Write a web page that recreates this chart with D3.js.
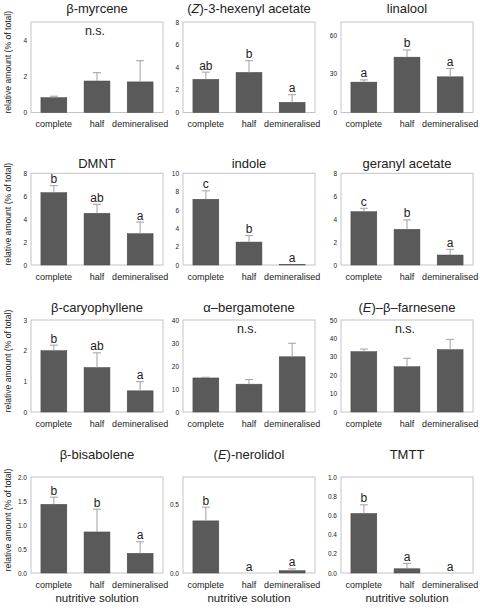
<!DOCTYPE html>
<html><head><meta charset="utf-8">
<script src="https://cdn.jsdelivr.net/npm/d3@7"></script>
<style>body{margin:0;background:#fff}svg{display:block}text{font-family:"Liberation Sans",Arial,sans-serif}</style>
</head><body>
<svg id="chart" width="480" height="612"></svg>
<script>
const categories = ["complete", "half", "demineralised"];
const compounds = ["β-myrcene", "(Z)-3-hexenyl acetate", "linalool",
  "DMNT", "indole", "geranyl acetate",
  "β-caryophyllene", "α–bergamotene", "(E)–β–farnesene",
  "β-bisabolene", "(E)-nerolidol", "TMTT"];
const means = [
  [0.82, 1.74, 1.69],
  [2.93, 3.54, 0.90],
  [23.5, 42.8, 27.6],
  [6.31, 4.51, 2.73],
  [7.17, 2.50, 0.04],
  [4.65, 3.11, 0.87],
  [2.00, 1.45, 0.69],
  [14.8, 12.1, 24.0],
  [32.8, 24.6, 33.9],
  [1.43, 0.855, 0.41],
  [0.38, 0.0, 0.017],
  [0.62, 0.044, 0.0]];
const errors = [
  [0.08, 0.46, 1.17],
  [0.64, 1.04, 0.67],
  [1.7, 5.6, 6.4],
  [0.61, 0.79, 1.02],
  [0.92, 0.70, 0],
  [0.30, 0.82, 0.50],
  [0.18, 0.48, 0.30],
  [0.3, 2.0, 5.9],
  [1.4, 4.6, 5.6],
  [0.15, 0.475, 0.24],
  [0.10, 0, 0.013],
  [0.09, 0.056, 0]];
const yMax = [5, 8, 70, 8, 10, 8, 3, 40, 50, 2, 0.7, 1];
const yTicks = [[0,2,4],[0,2,4,6,8],[0,30,60],[0,2,4,6,8],[0,2,4,6,8,10],[0,2,4,6,8],
  [0,1,2,3],[0,10,20,30,40],[0,10,20,30,40,50],[0,0.5,1,1.5,2],[0,0.5],[0,0.2,0.4,0.6,0.8,1]];
const tickDecimals = [0,0,0,0,0,0,0,0,0,1,1,1];
const sigLetters = [null, ["ab","b","a"], ["a","b","a"],
  ["b","ab","a"], ["c","b","a"], ["c","b","a"],
  ["b","ab","a"], null, null,
  ["b","b","a"], ["b","a","a"], ["b","a","a"]];
const yAxisTitle = "relative amount (% of total)";
const xAxisTitle = "nutritive solution";

// layout
const colX = [[31,163],[183,315],[341,473]];
const rowY = [[22,112.5],[173.3,265],[320,412],[477,573]];
const titleY = [13,168,312,459];

const svg = d3.select("#chart");
const txt = "#222";

compounds.forEach((name, i) => {
  const r = Math.floor(i / 3), c = i % 3;
  const [x0, x1] = colX[c], [y0, y1] = rowY[r];
  const x = d3.scaleBand().domain(categories).range([x0, x1]).paddingInner(0.4).paddingOuter(0.23);
  const y = d3.scaleLinear().domain([0, yMax[i]]).range([y1, y0]);
  const g = svg.append("g");

  // frame
  g.append("rect").attr("x", x0).attr("y", y0).attr("width", x1 - x0).attr("height", y1 - y0)
    .attr("fill", "none").attr("stroke", "#c4c4c4").attr("stroke-width", 1);

  // y axis
  const ya = d3.axisLeft(y).tickValues(yTicks[i]).tickSize(0).tickPadding(4)
    .tickFormat(d3.format("." + tickDecimals[i] + "f"));
  const yg = g.append("g").attr("transform", `translate(${x0},0)`).call(ya);
  yg.select(".domain").remove();
  yg.selectAll("text").attr("font-size", 6.5).attr("fill", txt);

  // x axis
  const xa = d3.axisBottom(x).tickSize(0).tickPadding(0);
  const xg = g.append("g").attr("transform", `translate(0,${y1 + 14.5})`).call(xa);
  xg.select(".domain").remove();
  xg.selectAll("text").attr("font-size", 9).attr("fill", txt).attr("dy", 0);

  // bars
  const data = categories.map((k, j) => ({k, v: means[i][j], e: errors[i][j], s: sigLetters[i] ? sigLetters[i][j] : null}));
  g.selectAll(".bar").data(data).join("rect")
    .attr("x", d => x(d.k)).attr("width", x.bandwidth())
    .attr("y", d => y(d.v)).attr("height", d => y(0) - y(d.v))
    .attr("fill", "#5a5a5a").attr("stroke", "#454545").attr("stroke-width", 0.5);

  // error bars (upper only)
  const eb = data.filter(d => d.e > 0);
  g.selectAll(".ev").data(eb).join("line")
    .attr("x1", d => x(d.k) + x.bandwidth() / 2).attr("x2", d => x(d.k) + x.bandwidth() / 2)
    .attr("y1", d => y(d.v)).attr("y2", d => y(d.v + d.e))
    .attr("stroke", "#a0a0a0").attr("stroke-width", 1);
  g.selectAll(".ec").data(eb).join("line")
    .attr("x1", d => x(d.k) + x.bandwidth() / 2 - 4).attr("x2", d => x(d.k) + x.bandwidth() / 2 + 4)
    .attr("y1", d => y(d.v + d.e)).attr("y2", d => y(d.v + d.e))
    .attr("stroke", "#a0a0a0").attr("stroke-width", 1);

  // significance letters
  if (sigLetters[i]) {
    g.selectAll(".sig").data(data).join("text")
      .attr("x", d => x(d.k) + x.bandwidth() / 2).attr("y", d => y(d.v + d.e) - 2.5)
      .attr("text-anchor", "middle").attr("font-size", 12).attr("fill", txt).text(d => d.s);
  } else {
    g.append("text").attr("x", (x0 + x1) / 2 - 2).attr("y", y0 + 13)
      .attr("text-anchor", "middle").attr("font-size", 12.5).attr("fill", txt).text("n.s.");
  }

  // title
  const t = g.append("text").attr("x", (x0 + x1) / 2).attr("y", titleY[r])
    .attr("text-anchor", "middle").attr("font-size", 13).attr("fill", txt);
  const m = name.match(/^\((.)\)(.*)$/);
  if (m) {
    t.append("tspan").text("(");
    t.append("tspan").attr("font-style", "italic").text(m[1]);
    t.append("tspan").text(")" + m[2]);
  } else t.text(name);

  // y axis title (first column)
  if (c === 0) {
    g.append("text").attr("transform", `translate(11,${(y0 + y1) / 2 - 5}) rotate(-90)`)
      .attr("text-anchor", "middle").attr("font-size", 8.6).attr("fill", txt).text(yAxisTitle);
  }
  // x axis title (last row)
  if (r === 3) {
    g.append("text").attr("x", (x0 + x1) / 2).attr("y", 602)
      .attr("text-anchor", "middle").attr("font-size", 11.5).attr("fill", txt).text(xAxisTitle);
  }
});
</script>
</body></html>
